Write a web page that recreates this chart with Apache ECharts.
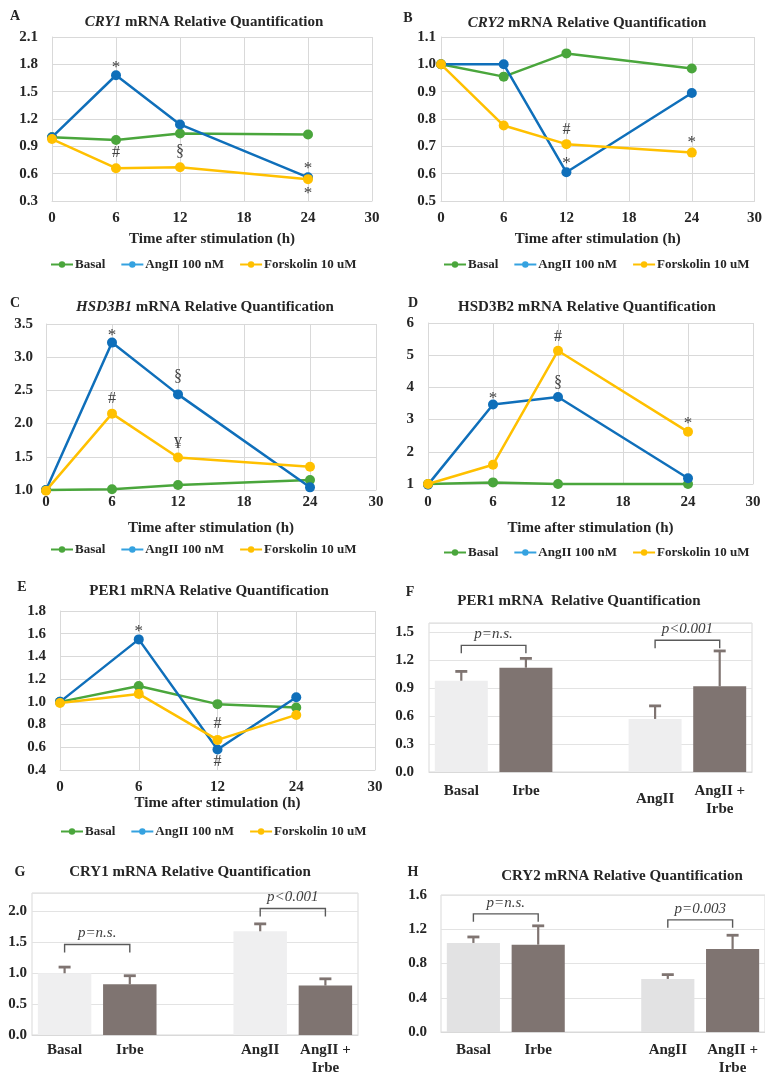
<!DOCTYPE html>
<html><head><meta charset="utf-8">
<script src="https://cdn.jsdelivr.net/npm/echarts@6/dist/echarts.min.js"></script>
<style>html,body{margin:0;padding:0;background:#fff}#c{width:765px;height:1077px}</style>
</head><body><div id="c"></div><script>
// ---------- data ----------
const hours = [0, 6, 12, 24];
const cry1Basal = [1.00, 0.97, 1.04, 1.03];
const cry1AngII = [1.00, 1.68, 1.14, 0.56];
const cry1Forsk = [0.98, 0.66, 0.67, 0.54];
const cry1Marks = [[6, 1.80, '*'], [6, 0.83, '#'], [12, 0.84, '§'], [24, 0.69, '*'], [24, 0.41, '*']];

const cry2Basal = [1.00, 0.955, 1.04, 0.985];
const cry2AngII = [1.00, 1.00, 0.605, 0.895];
const cry2Forsk = [1.00, 0.776, 0.708, 0.677];
const cry2Marks = [[12, 0.76, '#'], [12, 0.648, '*'], [24, 0.725, '*']];

const hsd1Basal = [1.00, 1.01, 1.075, 1.15];
const hsd1AngII = [1.00, 3.22, 2.44, 1.04];
const hsd1Forsk = [0.99, 2.15, 1.49, 1.35];
const hsd1Marks = [[6, 3.37, '*'], [6, 2.37, '#'], [12, 2.70, '§'], [12, 1.69, '¥']];

const hsd2Basal = [1.00, 1.05, 1.00, 1.00];
const hsd2AngII = [0.98, 3.47, 3.70, 1.18];
const hsd2Forsk = [1.00, 1.60, 5.14, 2.62];
const hsd2Marks = [[6, 3.75, '*'], [12, 5.57, '#'], [12, 4.14, '§'], [24, 2.97, '*']];

const perCats = ['0', '6', '12', '24', '30'];
const per1Basal = [1.00, 1.14, 0.98, 0.95];
const per1AngII = [1.00, 1.55, 0.58, 1.04];
const per1Forsk = [0.99, 1.07, 0.665, 0.885];
const per1Marks = [[1, 1.65, '*'], [2, 0.81, '#'], [2, 0.47, '#']];

const barCats = ['Basal', 'Irbe', '', 'AngII', 'AngII +\nIrbe'];
const fMean = [0.98, 1.12, null, 0.57, 0.92];
const fUpper = [1.08, 1.22, null, 0.71, 1.30];
const fBrackets = [[0, 1, 1.36, 'p=n.s.'], [3, 4, 1.415, 'p<0.001']];
const gMean = [1.00, 0.82, null, 1.68, 0.80];
const gUpper = [1.10, 0.96, null, 1.80, 0.91];
const gBrackets = [[0, 1, 1.465, 'p=n.s.'], [3, 4, 2.05, 'p<0.001']];
const hMean = [1.04, 1.02, null, 0.62, 0.97];
const hUpper = [1.11, 1.24, null, 0.67, 1.13];
const hBrackets = [[0, 1, 1.38, 'p=n.s.'], [3, 4, 1.31, 'p=0.003']];

const seriesNames = ['Basal', 'AngII 100 nM', 'Forskolin 10 uM'];

// ---------- style ----------
const FONT = '"Liberation Serif", "Times New Roman", serif';
const GREEN = '#4aa63c', BLUE = '#0f6fba', YELLOW = '#ffc000', LBLUE = '#35a2e0';
const GRIDC = '#d9d9d9', TXT = '#262626';
const LIGHTS = ['#eeeeef', '#efeff0', '#e2e2e3'];
const DARK = '#7f7471';
const TICK = 15;

const chart = echarts.init(document.getElementById('c'), null, {renderer: 'canvas'});

const grids = [], xAxes = [], yAxes = [], series = [], titles = [], legends = [];

function addTitle(text, x, y, size) {
  titles.push({text, left: x, top: y - size / 2 - 1, textAlign: 'center', padding: 0,
    textStyle: {fontFamily: FONT, fontWeight: 'bold', fontSize: size, color: TXT,
      rich: {i: {fontFamily: FONT, fontWeight: 'bold', fontStyle: 'italic', fontSize: size, color: TXT}}}});
}
function addLegend(x, y) {
  legends.push({left: x, top: y - 7, padding: 0, itemWidth: 22, itemHeight: 8, itemGap: 15,
    textStyle: {fontFamily: FONT, fontWeight: 'bold', fontSize: 13, color: TXT, padding: [0, 0, 0, -3]},
    data: [
      {name: seriesNames[0]},
      {name: seriesNames[1], itemStyle: {color: LBLUE}, lineStyle: {color: LBLUE}},
      {name: seriesNames[2]}
    ]});
}
function marksSeries(gi, marks) {
  return {type: 'custom', xAxisIndex: gi, yAxisIndex: gi, z: 10, silent: true,
    data: marks.map(m => [m[0], m[1]]),
    renderItem: (params, api) => {
      const p = api.coord([api.value(0), api.value(1)]);
      const t = marks[params.dataIndex][2];
      const star = t === '*';
      return {type: 'text', x: p[0], y: p[1] + (star ? 3 : 0),
        style: {text: t, fill: '#404040', align: 'center', verticalAlign: 'middle',
          font: (star ? '17px ' : '16px ') + FONT}};
    }};
}
function lineGrid(gi, g, ymin, ymax, yint, lblMargin, xMargin, nameGap, cats) {
  grids.push({left: g[0], top: g[1], width: g[2], height: g[3], containLabel: false});
  const axisLabelStyle = {fontFamily: FONT, fontWeight: 'bold', fontSize: TICK, color: TXT};
  const nameStyle = {fontFamily: FONT, fontWeight: 'bold', fontSize: 15, color: TXT};
  if (cats) {
    xAxes.push({gridIndex: gi, type: 'category', data: cats, boundaryGap: false,
      axisLine: {lineStyle: {color: GRIDC}}, axisTick: {show: false},
      axisLabel: Object.assign({margin: xMargin, interval: 0}, axisLabelStyle),
      splitLine: {show: true, interval: 0, lineStyle: {color: GRIDC}},
      name: 'Time after stimulation (h)', nameLocation: 'middle', nameGap: nameGap,
      nameTextStyle: nameStyle});
  } else {
    xAxes.push({gridIndex: gi, type: 'value', min: 0, max: 30, interval: 6,
      axisLine: {lineStyle: {color: GRIDC}}, axisTick: {show: false},
      axisLabel: Object.assign({margin: xMargin}, axisLabelStyle),
      splitLine: {show: true, lineStyle: {color: GRIDC}},
      name: 'Time after stimulation (h)', nameLocation: 'middle', nameGap: nameGap,
      nameTextStyle: nameStyle});
  }
  yAxes.push({gridIndex: gi, type: 'value', min: ymin, max: ymax, interval: yint,
    axisLine: {show: true, lineStyle: {color: GRIDC}}, axisTick: {show: false},
    axisLabel: Object.assign({margin: lblMargin,
      formatter: v => yint >= 1 ? String(Math.round(v)) : v.toFixed(1)}, axisLabelStyle),
    splitLine: {show: true, lineStyle: {color: GRIDC}}});
}
function lineSeries(gi, xs, basal, ang, forsk) {
  const mk = (arr) => xs.map((x, i) => [x, arr[i]]);
  const cols = [GREEN, BLUE, YELLOW];
  [basal, ang, forsk].forEach((arr, k) => {
    series.push({type: 'line', name: seriesNames[k], xAxisIndex: gi, yAxisIndex: gi,
      data: mk(arr), symbol: 'circle', symbolSize: 10, clip: false,
      itemStyle: {color: cols[k]}, lineStyle: {color: cols[k], width: 2.5},
      emphasis: {disabled: true}, z: 3 + k});
  });
}
function barGrid(gi, g, ymax, yint, lblMargin, xMargin, light, mean, upper, brackets, labelShift) {
  grids.push({left: g[0], top: g[1], width: g[2], height: g[3], show: true,
    borderColor: GRIDC, borderWidth: 1, backgroundColor: 'transparent'});
  const axisLabelStyle = {fontFamily: FONT, fontWeight: 'bold', fontSize: TICK, color: TXT};
  xAxes.push({gridIndex: gi, type: 'category',
    data: barCats.map((c, i) => (i === 3 && labelShift) ? {value: c, textStyle: {padding: [labelShift, 0, 0, 0]}} : c),
    axisLine: {lineStyle: {color: GRIDC}}, axisTick: {show: false},
    axisLabel: Object.assign({margin: xMargin, interval: 0, lineHeight: 18}, axisLabelStyle),
    splitLine: {show: false}});
  yAxes.push({gridIndex: gi, type: 'value', min: 0, max: ymax, interval: yint,
    axisLine: {show: false}, axisTick: {show: false},
    axisLabel: Object.assign({margin: lblMargin,
      formatter: v => {
        const r = Math.round(v / yint);
        return Math.abs(r * yint - v) < 1e-6 ? v.toFixed(1) : '';
      }}, axisLabelStyle),
    splitLine: {show: true, lineStyle: {color: '#e3e3e3'}}});
  series.push({type: 'bar', xAxisIndex: gi, yAxisIndex: gi, barWidth: '82%',
    data: mean.map((m, i) => m == null ? '-' : {value: m, itemStyle: {color: (i % 3 === 0) ? light : DARK}}),
    emphasis: {disabled: true}, silent: true, z: 2});
  series.push({type: 'custom', xAxisIndex: gi, yAxisIndex: gi, z: 6, silent: true,
    data: mean.map((m, i) => m == null ? null : [i, m, upper[i]]).filter(d => d),
    renderItem: (params, api) => {
      const b = api.coord([api.value(0), api.value(1)]);
      const t = api.coord([api.value(0), api.value(2)]);
      return {type: 'group', children: [
        {type: 'line', shape: {x1: b[0], y1: b[1], x2: t[0], y2: t[1]}, style: {stroke: DARK, lineWidth: 2.2}},
        {type: 'line', shape: {x1: t[0] - 6, y1: t[1], x2: t[0] + 6, y2: t[1]}, style: {stroke: DARK, lineWidth: 2.8}}
      ]};
    }});
  series.push({type: 'custom', xAxisIndex: gi, yAxisIndex: gi, z: 7, silent: true,
    data: brackets.map(b => [b[0], b[1], b[2]]),
    renderItem: (params, api) => {
      const p0 = api.coord([api.value(0), api.value(2)]);
      const p1 = api.coord([api.value(1), api.value(2)]);
      const tk = 8;
      return {type: 'group', children: [
        {type: 'polyline', shape: {points: [[p0[0], p0[1] + tk], [p0[0], p0[1]], [p1[0], p1[1]], [p1[0], p1[1] + tk]]},
          style: {stroke: '#5a5a5a', lineWidth: 1.4, fill: null}},
        {type: 'text', x: (p0[0] + p1[0]) / 2, y: p0[1] - 11,
          style: {text: brackets[params.dataIndex][3], fill: '#404040', align: 'center', verticalAlign: 'middle',
            font: 'italic 15px ' + FONT}}
      ]};
    }});
}

// ---------- panels ----------
// A
lineGrid(0, [52, 37, 320, 164], 0.3, 2.1, 0.3, 14, 10, 31);
lineSeries(0, hours, cry1Basal, cry1AngII, cry1Forsk);
series.push(marksSeries(0, cry1Marks));
addTitle('{i|CRY1} mRNA Relative Quantification', 204, 23, 15);
addTitle('A', 15, 17, 14);
addLegend(50, 265);
// B
lineGrid(1, [441, 37, 316, 164], 0.5, 1.1, 0.1, 5, 10, 31);
lineSeries(1, hours, cry2Basal, cry2AngII, cry2Forsk);
series.push(marksSeries(1, cry2Marks));
addTitle('{i|CRY2} mRNA Relative Quantification', 587, 24, 15);
addTitle('B', 408, 19, 14);
addLegend(443, 265);
// C
lineGrid(2, [46, 324, 330, 166], 1.0, 3.5, 0.5, 13, 5, 31);
lineSeries(2, hours, hsd1Basal, hsd1AngII, hsd1Forsk);
series.push(marksSeries(2, hsd1Marks));
addTitle('{i|HSD3B1} mRNA Relative Quantification', 205, 308, 15);
addTitle('C', 15, 304, 14);
addLegend(50, 550);
// D
lineGrid(3, [428, 323, 325, 161], 1, 6, 1, 14, 11, 37);
lineSeries(3, hours, hsd2Basal, hsd2AngII, hsd2Forsk);
series.push(marksSeries(3, hsd2Marks));
addTitle('HSD3B2 mRNA Relative Quantification', 587, 308, 15);
addTitle('D', 413, 304, 14);
addLegend(443, 553);
// E
lineGrid(4, [60, 611, 315, 159], 0.4, 1.8, 0.2, 14, 10, 24, perCats);
lineSeries(4, [0, 1, 2, 3], per1Basal, per1AngII, per1Forsk);
series.push(marksSeries(4, per1Marks));
addTitle('PER1 mRNA Relative Quantification', 209, 592, 15);
addTitle('E', 22, 588, 14);
addLegend(60, 832);
// F
barGrid(5, [429, 623, 323, 149], 1.6, 0.3, 15, 10, LIGHTS[0], fMean, fUpper, fBrackets, 8);
addTitle('PER1 mRNA  Relative Quantification', 579, 602, 15);
addTitle('F', 410, 593, 14);
// G
barGrid(6, [32, 893, 326, 146], 2.3, 0.5, 5, 6, LIGHTS[1], gMean, gUpper, gBrackets, 0);
addTitle('CRY1 mRNA Relative Quantification', 190, 873, 15);
addTitle('G', 20, 873, 14);
// H
barGrid(7, [441, 895, 325, 145], 1.6, 0.4, 14, 9, LIGHTS[2], hMean, hUpper, hBrackets, 0);
addTitle('CRY2 mRNA Relative Quantification', 622, 877, 15);
addTitle('H', 413, 873, 14);

chart.setOption({
  animation: false,
  backgroundColor: '#ffffff',
  textStyle: {fontFamily: FONT},
  title: titles, legend: legends, grid: grids, xAxis: xAxes, yAxis: yAxes, series: series
});
</script></body></html>
